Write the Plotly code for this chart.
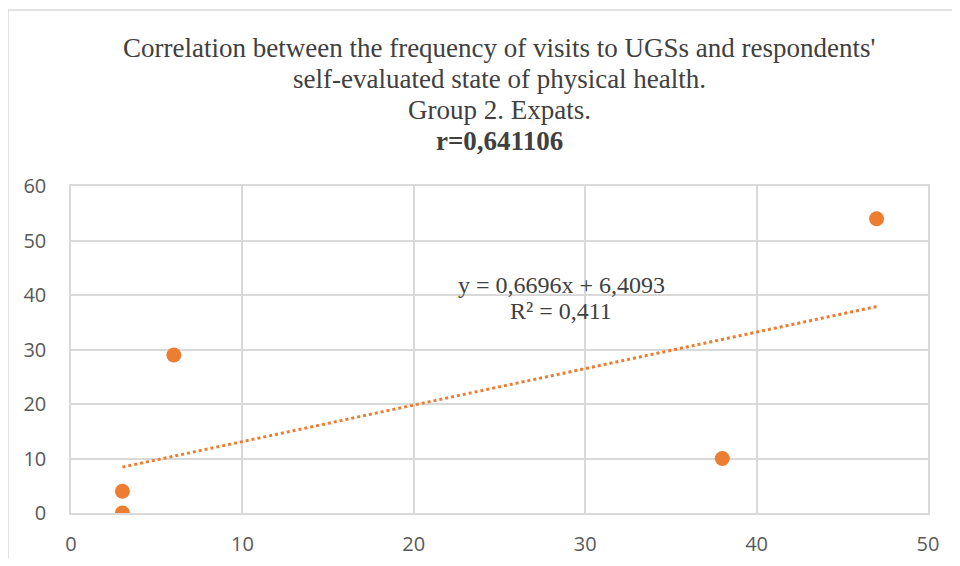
import plotly.graph_objects as go

# Data
visits = [3, 3, 6, 38, 47]
health = [0, 4, 29, 10, 54]
slope = 0.6696
intercept = 6.4093
trend_x = [3, 47]
x_ticks = [0, 10, 20, 30, 40, 50]
y_ticks = [0, 10, 20, 30, 40, 50, 60]

orange = "#ED7D31"
grid = "#D9D9D9"

# page body has an 8px margin on every side; keep total page = 960x566
OFF = 8
W, H = 960 - 2 * OFF, 566 - 2 * OFF
L, T = 71 - OFF, 186 - OFF
R = (W + OFF) - 928
B = (H + OFF) - 513
pw = W - L - R
ph = H - T - B


def px_to_paper_x(px):
    return (px - OFF - L) / pw


def px_to_paper_y(py):
    return (H - B - (py - OFF)) / ph


fig = go.Figure()
fig.add_trace(go.Scatter(
    x=trend_x, y=[slope * v + intercept for v in trend_x],
    mode="lines", line=dict(color=orange, width=3, dash="dot"),
    hoverinfo="skip", showlegend=False))
fig.add_trace(go.Scatter(
    x=visits, y=health, mode="markers",
    marker=dict(color=orange, size=15, line=dict(width=0)),
    showlegend=False))

tick_font = dict(family="Open Sans, Liberation Sans, sans-serif", size=20, color="#595959")
serif = "Liberation Serif, Times New Roman, serif"

fig.update_xaxes(range=[0, 50], tickvals=x_ticks, showgrid=True, gridcolor=grid, gridwidth=1.5,
                 zeroline=False, showline=True, linecolor=grid, linewidth=1.5, mirror=True,
                 tickfont=tick_font, ticks="", ticklabelstandoff=12, automargin=False)
fig.update_yaxes(range=[0, 60], tickvals=y_ticks, showgrid=True, gridcolor=grid, gridwidth=1.5,
                 zeroline=False, showline=True, linecolor=grid, linewidth=1.5, mirror=True,
                 tickfont=tick_font, ticks="", ticklabelstandoff=19, automargin=False)

title_lines = [
    ("Correlation between the frequency of visits to UGSs and respondents'", 48, False),
    ("self-evaluated state of physical health.", 79, False),
    ("Group 2. Expats.", 110, False),
    ("r=0,641106", 141, True),
]
annotations = []
for txt, ypx, bold in title_lines:
    annotations.append(dict(
        text=f"<b>{txt}</b>" if bold else txt, xref="paper", yref="paper",
        x=px_to_paper_x(499), y=px_to_paper_y(ypx), xanchor="center", yanchor="middle",
        showarrow=False, font=dict(family=serif, size=27, color="#404040")))

annotations.append(dict(text="y = 0,6696x + 6,4093", x=28.6, y=41.8, xref="x", yref="y",
                        showarrow=False, font=dict(family=serif, size=24, color="#404040")))
annotations.append(dict(text="R² = 0,411", x=28.6, y=37.0, xref="x", yref="y",
                        showarrow=False, font=dict(family=serif, size=24, color="#404040")))

fig.update_layout(
    width=W, height=H,
    margin=dict(l=L, r=R, t=T, b=B, autoexpand=False),
    paper_bgcolor="white", plot_bgcolor="white",
    annotations=annotations,
    shapes=[dict(type="rect", xref="paper", yref="paper",
                 x0=px_to_paper_x(8), x1=px_to_paper_x(990),
                 y0=-0.3, y1=px_to_paper_y(10),
                 line=dict(color=grid, width=1.5), layer="below")],
)

fig.write_html("out.html")
